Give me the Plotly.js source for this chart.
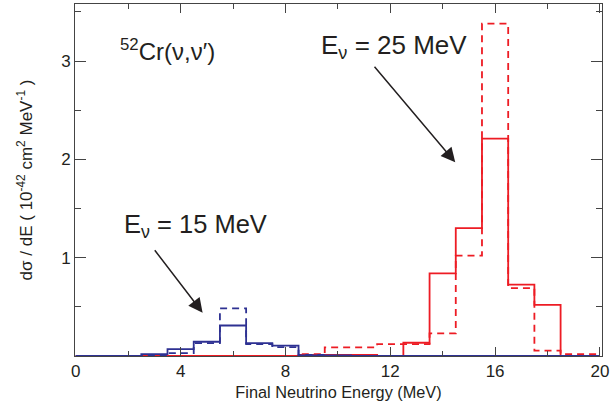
<!DOCTYPE html>
<html>
<head>
<meta charset="utf-8">
<script src="https://cdn.plot.ly/plotly-3.0.1.min.js"></script>
<style>html,body{margin:0;padding:0;background:#fff;}#chart{width:613px;height:407px;}</style>
</head>
<body>
<div id="chart"></div>
<script>
// Final neutrino energy bin centres (MeV), bins are 1 MeV wide
const energy = [0,1,2,3,4,5,6,7,8,9,10,11,12,13,14,15,16,17,18,19,20];
// E_nu = 25 MeV
const red_solid  = [0,0,0,0,0,0,0,0,0,0.01,0.01,0.01,0,0.135,0.84,1.30,2.21,0.725,0.52,0,0];
const red_dashed = [0,0,0,0,0,0,0,0,0,0.02,0.088,0.088,0.12,0.12,0.23,1.02,3.38,0.69,0.055,0.02,0.02];
// E_nu = 15 MeV
const blue_solid  = [0,0,0,0.02,0.07,0.145,0.31,0.13,0.105,0.005,0.005,0,0,0,0,0,0,0,0,0,0];
const blue_dashed = [0,0,0,0,0.03,0.13,0.485,0.12,0.09,0.01,0,0,0,0,0,0,0,0,0,0,0];

const RED = 'rgb(237,28,36)';
const BLUE = 'rgb(46,49,146)';
const INK = '#231f20';

function trace(y, color, dash) {
  return {x: energy, y: y, type: 'scatter', mode: 'lines',
          line: {shape: 'hvh', color: color, width: 1.8, dash: dash},
          hoverinfo: 'skip', showlegend: false};
}

const data = [
  trace(red_dashed, RED, '7px,5px'),
  trace(red_solid, RED, 'solid'),
  trace(blue_dashed, BLUE, '7px,5px'),
  trace(blue_solid, BLUE, 'solid')
];

const font = {family: 'Liberation Sans, Arial, sans-serif', color: INK};

const layout = {
  width: 613, height: 407,
  margin: {l: 75, r: 11, t: 4, b: 51},
  paper_bgcolor: '#fff', plot_bgcolor: '#fff',
  font: Object.assign({size: 17}, font),
  showlegend: false,
  xaxis: {
    range: [-0.03, 20.08], showgrid: false, zeroline: false,
    showline: true, linecolor: '#444', linewidth: 1, mirror: 'allticks',
    ticks: 'inside', ticklen: 9, tickcolor: '#444', tickwidth: 1,
    tickmode: 'linear', tick0: 0, dtick: 4,
    minor: {tickmode: 'linear', tick0: 0, dtick: 2, ticks: 'inside', ticklen: 5, tickcolor: '#444', showgrid: false},
    tickfont: Object.assign({size: 17}, font),
    title: {text: 'Final Neutrino Energy (MeV)', font: Object.assign({size: 16.3}, font), standoff: 6}
  },
  yaxis: {
    range: [0, 3.58], showgrid: false, zeroline: false,
    showline: true, linecolor: '#444', linewidth: 1, mirror: 'allticks',
    ticks: 'inside', ticklen: 11, tickcolor: '#444', tickwidth: 1,
    tickmode: 'array', tickvals: [1, 2, 3], ticktext: ['1', '2', '3'],
    minor: {tickmode: 'linear', tick0: 0, dtick: 0.5, ticks: 'inside', ticklen: 6, tickcolor: '#444', showgrid: false},
    tickfont: Object.assign({size: 17}, font),
    title: {text: 'd\u03c3 / dE ( 10<sup>-42</sup> cm<sup>2</sup> MeV<sup>-1</sup> )', font: Object.assign({size: 17}, font), standoff: 24}
  },
  annotations: [
    {x: 3.5, y: 3.11, xref: 'x', yref: 'y', showarrow: false,
     text: '<sup>52</sup>Cr(\u03bd,\u03bd\u2032)', font: Object.assign({size: 24}, font)},
    {x: 12.15, y: 3.15, xref: 'x', yref: 'y', showarrow: false,
     text: 'E<sub>\u03bd</sub> = 25 MeV', font: Object.assign({size: 26}, font)},
    {x: 4.56, y: 1.32, xref: 'x', yref: 'y', showarrow: false,
     text: 'E<sub>\u03bd</sub> = 15 MeV', font: Object.assign({size: 25.5}, font)},
    {x: 14.48, y: 1.97, xref: 'x', yref: 'y', text: '', showarrow: true,
     ax: -82, ay: -97, arrowhead: 2, arrowsize: 1.9, arrowwidth: 1.5, arrowcolor: INK},
    {x: 4.84, y: 0.44, xref: 'x', yref: 'y', text: '', showarrow: true,
     ax: -49, ay: -64, arrowhead: 2, arrowsize: 1.9, arrowwidth: 1.5, arrowcolor: INK}
  ]
};

Plotly.newPlot('chart', data, layout, {staticPlot: true, displayModeBar: false});
</script>
</body>
</html>
